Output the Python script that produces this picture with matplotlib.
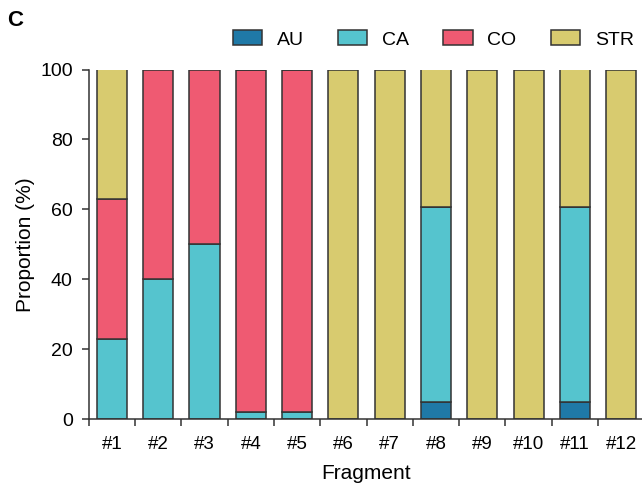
import matplotlib
matplotlib.use("Agg")
import matplotlib.pyplot as plt
import numpy as np

plt.rcParams['font.family'] = ['Liberation Sans', 'DejaVu Sans']

# composition of each fragment, percent
fragments = ['#1', '#2', '#3', '#4', '#5', '#6', '#7', '#8', '#9', '#10', '#11', '#12']
AU = [0, 0, 0, 0, 0, 0, 0, 5, 0, 0, 5, 0]
CA = [22.9, 40, 50, 2.2, 2.2, 0, 0, 55.6, 0, 0, 55.6, 0]
CO = [40.2, 60, 50, 97.8, 97.8, 0, 0, 0, 0, 0, 0, 0]
STR = [36.9, 0, 0, 0, 0, 100, 100, 39.4, 100, 100, 39.4, 100]

series = [('AU', AU, '#1f79a7'), ('CA', CA, '#55c4ce'),
          ('CO', CO, '#ef5a72'), ('STR', STR, '#d8cb6f')]

fig = plt.figure(figsize=(6.42, 4.88), dpi=100)
ax = fig.add_axes([88.8 / 642, 68.7 / 488, 555.5 / 642, 349.8 / 488])

x = np.arange(len(fragments))
bottom = np.zeros(len(fragments))
for name, vals, col in series:
    vals = np.array(vals, dtype=float)
    ax.bar(x, vals, width=0.65, bottom=bottom, color=col, edgecolor='#333333',
           linewidth=1.1, label=name)
    bottom += vals

ax.set_xlim(-0.5, 11.5)
ax.set_ylim(0, 100)
ax.set_yticks([0, 20, 40, 60, 80, 100])
ax.set_xticks(x)
ax.set_xticklabels(fragments)
ax.set_xticks(np.arange(-0.5, 12, 1), minor=True)
ax.tick_params(axis='x', which='major', length=0, pad=12, labelsize=13.5)
ax.tick_params(axis='x', which='minor', length=5, width=1.1, color='#333333')
ax.tick_params(axis='y', length=5, width=1.1, color='#333333', labelsize=14, pad=6.5)

for s in ['top', 'right']:
    ax.spines[s].set_visible(False)
for s in ['left', 'bottom']:
    ax.spines[s].set_linewidth(1.1)
    ax.spines[s].set_color('#333333')

ax.set_ylabel('Proportion (%)', fontsize=15, labelpad=4)
ax.set_xlabel('Fragment', fontsize=15, labelpad=8)

ax.legend(loc='center left', bbox_to_anchor=(233 / 642, 1 - 39.5 / 488), bbox_transform=fig.transFigure,
          ncol=4, frameon=False, fontsize=14, handlelength=1.5, handleheight=0.77,
          columnspacing=1.75, handletextpad=0.77, borderaxespad=0, borderpad=0)

fig.text(15 / 642, 1 - 21 / 488, 'C', fontsize=16, fontweight='bold', va='center', ha='center')

fig.savefig('out.png', dpi=100)
